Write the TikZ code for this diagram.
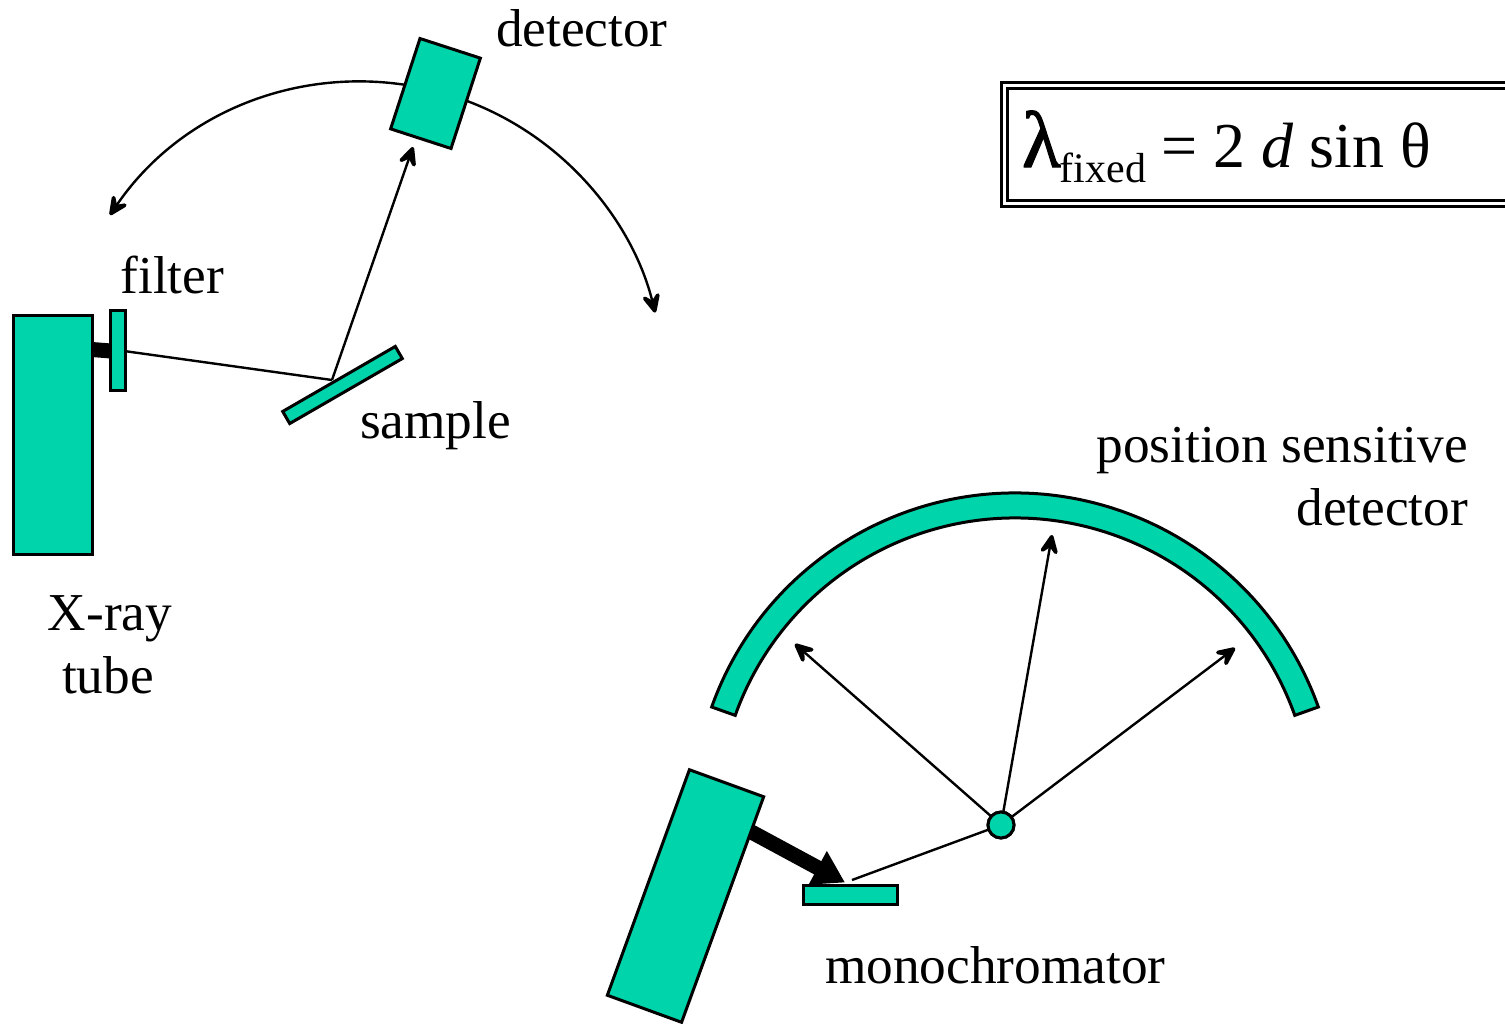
\documentclass[tikz,border=0pt]{standalone}
\usepackage{fontspec}
\setmainfont{Liberation Serif}
\newfontfamily\lamfont[FakeBold=1.5]{Liberation Serif}
\usetikzlibrary{arrows.meta}
\definecolor{teal}{RGB}{0,212,170}
\tikzset{
  part/.style={draw=black,fill=teal,line width=3pt,inner sep=0pt,outer sep=0pt},
  beam/.style={draw=black,line width=2.4pt},
  headtip/.tip={Stealth[length=27pt,width=25pt,inset=12pt,round,line width=5pt]},
  tipped/.style={-headtip},
  lbl/.style={inner sep=0pt,outer sep=0pt,font=\fontsize{53.3}{53.3}\selectfont,anchor=base west},
  lblr/.style={lbl,anchor=base east},
  lblc/.style={lbl,anchor=base}
}
\begin{document}
\begin{tikzpicture}[x=1pt,y=-1pt]
\useasboundingbox (0,0) rectangle (1505,1023);
% named ends
\coordinate (arcA) at (110,215);
\coordinate (b1) at (124,351);
\coordinate (hit1) at (332,380);
\coordinate (dettip) at (413,147);
\coordinate (tipL) at (795,644);
\coordinate (tipM) at (1052,535);
\coordinate (tipR) at (1235,648);
\coordinate (monoEnd) at (852,880);
\coordinate (tubeOut) at (745,828.5);
\coordinate (monoHit) at (845,882.5);
\coordinate (tubeA) at (92,349.5);
\coordinate (filterIn) at (111,351);
% scan arc
\draw[beam,headtip-headtip]
  (arcA) arc[start angle=-145.9,end angle=-13.8,radius=303];
% upper instrument
\draw[black,line width=15pt] (tubeA) -- (filterIn);
\draw[beam] (b1) -- (hit1);
\draw[beam,tipped] (hit1) -- (dettip);
\node[part,minimum width=78.5pt,minimum height=238.5pt] (tube1) at (52.75,435) {};
\node[part,minimum width=14.5pt,minimum height=79.5pt] (filter) at (118,350.5) {};
\node[part,minimum width=130pt,minimum height=14pt,rotate=30] (sample) at (342.5,385) {};
\node[part,minimum width=63.5pt,minimum height=95pt,rotate=-18] (detector) at (435.5,93.5) {};
% formula box
\draw[black,line width=3pt] (1505,82) -- (1001,82) -- (1001,206) -- (1505,206);
\draw[black,line width=3pt] (1505,88) -- (1007,88) -- (1007,200.5) -- (1505,200.5);
\node[lbl,font=\fontsize{64}{64}\selectfont] (formula) at (1022,167)
  {{\fontsize{80}{80}\lamfont λ}\raisebox{-15pt}{\fontsize{42}{42}\selectfont\kern-1pt fixed}\kern 15pt= 2 \textit{d} sin θ};
% position sensitive detector
\draw[part,shift={(1015,815)}] (-160.4:322) arc[start angle=-160.4,end angle=-19.6,radius=322]
  -- (-19.6:297) arc[start angle=-19.6,end angle=-160.4,radius=297] -- cycle;
% lower instrument
\node[part,circle,minimum size=26pt] (pivot) at (1001,825) {};
\draw[beam,tipped] (pivot) -- (tipL);
\draw[beam,tipped] (pivot) -- (tipM);
\draw[beam,tipped] (pivot) -- (tipR);
\draw[beam] (pivot) -- (monoEnd);
\node[part,circle,minimum size=26pt] at (pivot) {};
\draw[black,line width=15pt,-{Triangle[length=31pt,width=36pt]}] (tubeOut) -- (monoHit);
\node[part,minimum width=94pt,minimum height=19pt] (mono) at (850.5,895) {};
\node[part,minimum width=79pt,minimum height=240pt,rotate=-20] (tube2) at (685.5,896) {};
% labels
\node[lbl] (ldet) at (496,46) {detector};
\node[lbl] (lfil) at (120.5,293) {filter};
\node[lbl] (lsam) at (360,438) {sample};
\node[lblc] (lx) at (110,630) {X-ray};
\node[lblc] (lt) at (108,693) {tube};
\node[lblr] (lp) at (1468,462) {position sensitive};
\node[lblr] (ld) at (1468,525) {detector};
\node[lbl] (lm) at (825,983) {monochromator};
\end{tikzpicture}
\end{document}
